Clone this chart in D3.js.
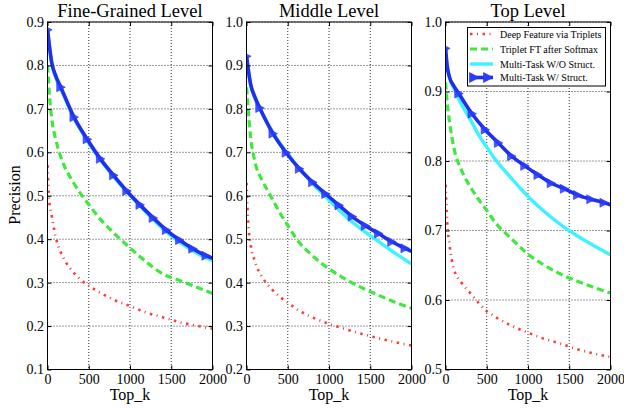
<!DOCTYPE html>
<html>
<head>
<meta charset="utf-8">
<script src="https://cdn.jsdelivr.net/npm/d3@7"></script>
<style>
  body { margin: 0; background: #fff; }
  svg { display: block; }
  svg text { font-family: "Liberation Serif", "Times New Roman", Times, serif; fill: #000; }
</style>
</head>
<body>
<svg id="chart" width="624" height="408"></svg>
<script>
// top_k values where the curves were read
const kGrid = [1, 20, 50, 100, 200, 300, 400, 500, 600, 800, 1000, 1200, 1400, 1600, 1800, 2000];
// the marked series is read at its marker positions (plus a few early points)
const kMarked = [1, 20, 50, 100, 161, 321, 481, 641, 801, 961, 1121, 1281, 1441, 1601, 1761, 1921, 2000];

// Fine-Grained Level
const fineRed   = [0.57, 0.49, 0.455, 0.405, 0.355, 0.327, 0.307, 0.293, 0.281, 0.261, 0.246, 0.231, 0.22, 0.209, 0.201, 0.194];
const fineGreen = [0.80, 0.74, 0.68, 0.63, 0.57, 0.535, 0.505, 0.48, 0.455, 0.415, 0.38, 0.347, 0.32, 0.305, 0.29, 0.275];
const fineCyan  = [0.88, 0.848, 0.805, 0.772, 0.73, 0.686, 0.652, 0.621, 0.593, 0.544, 0.501, 0.461, 0.424, 0.393, 0.369, 0.351];
const fineBlue  = [0.882, 0.85, 0.808, 0.776, 0.750, 0.681, 0.630, 0.585, 0.547, 0.511, 0.479, 0.449, 0.421, 0.398, 0.378, 0.362, 0.356];

// Middle Level
const midRed   = [0.63, 0.54, 0.488, 0.45, 0.41, 0.386, 0.368, 0.354, 0.34, 0.32, 0.305, 0.293, 0.282, 0.272, 0.263, 0.255];
const midGreen = [0.85, 0.80, 0.735, 0.68, 0.632, 0.597, 0.562, 0.532, 0.502, 0.462, 0.432, 0.408, 0.388, 0.371, 0.355, 0.341];
const midCyan  = [0.92, 0.89, 0.855, 0.825, 0.787, 0.752, 0.722, 0.697, 0.672, 0.628, 0.59, 0.553, 0.522, 0.495, 0.468, 0.443];
const midBlue  = [0.921, 0.893, 0.857, 0.828, 0.802, 0.743, 0.699, 0.662, 0.631, 0.604, 0.578, 0.552, 0.531, 0.513, 0.494, 0.479, 0.472];

// Top Level
const topRed   = [0.766, 0.713, 0.678, 0.645, 0.624, 0.61, 0.596, 0.584, 0.576, 0.563, 0.553, 0.544, 0.537, 0.529, 0.523, 0.518];
const topGreen = [0.913, 0.885, 0.855, 0.82, 0.785, 0.763, 0.745, 0.729, 0.712, 0.688, 0.666, 0.65, 0.637, 0.627, 0.618, 0.61];
const topCyan  = [0.96, 0.937, 0.92, 0.905, 0.88, 0.86, 0.838, 0.82, 0.803, 0.775, 0.749, 0.727, 0.708, 0.692, 0.678, 0.665];
const topBlue  = [0.962, 0.937, 0.92, 0.908, 0.897, 0.868, 0.845, 0.826, 0.807, 0.793, 0.78, 0.768, 0.76, 0.751, 0.745, 0.74, 0.737];

const xTicks = [0, 500, 1000, 1500, 2000];
const titles = ["Fine-Grained Level", "Middle Level", "Top Level"];
const yDomains = [[0.1, 0.9], [0.2, 1.0], [0.5, 1.0]];
const yTicks = [
  [0.1, 0.2, 0.3, 0.4, 0.5, 0.6, 0.7, 0.8, 0.9],
  [0.2, 0.3, 0.4, 0.5, 0.6, 0.7, 0.8, 0.9, 1.0],
  [0.5, 0.6, 0.7, 0.8, 0.9, 1.0]
];
const seriesNames = ["Deep Feature via Triplets", "Triplet FT after Softmax", "Multi-Task W/O Struct.", "Multi-Task W/ Struct."];
const panelData = [
  [fineRed, fineGreen, fineCyan, fineBlue],
  [midRed, midGreen, midCyan, midBlue],
  [topRed, topGreen, topCyan, topBlue]
];

const styles = [
  { color: "#ff3a3a", width: 2.6, dash: "2.5,4.5,1,4.5" },
  { color: "#3ee83e", width: 3.2, dash: "7,4" },
  { color: "#3ef2ff", width: 3.4, dash: null },
  { color: "#1f2ff0", width: 3.6, dash: null }
];

const svg = d3.select("#chart");
const panelLeft = [47.5, 246.5, 445.5];
const panelW = 165;
const plotTop = 22, plotBottom = 369.5;
const serif = "'Liberation Serif', 'Times New Roman', Times, serif";

const triangle = s => `M${-s * 0.45},${-s / 2}L${s * 0.5},0L${-s * 0.45},${s / 2}Z`;

panelLeft.forEach((x0, p) => {
  const x = d3.scaleLinear().domain([0, 2000]).range([x0, x0 + panelW]);
  const y = d3.scaleLinear().domain(yDomains[p]).range([plotBottom, plotTop]);
  const g = svg.append("g");

  // grid
  g.append("g").selectAll("line").data(xTicks).join("line")
    .attr("x1", d => x(d)).attr("x2", d => x(d))
    .attr("y1", plotTop).attr("y2", plotBottom)
    .attr("stroke", "#000").attr("stroke-width", 0.8).attr("stroke-dasharray", "1,2");
  g.append("g").selectAll("line").data(yTicks[p]).join("line")
    .attr("y1", d => y(d)).attr("y2", d => y(d))
    .attr("x1", x0).attr("x2", x0 + panelW)
    .attr("stroke", "#000").attr("stroke-width", 0.8).attr("stroke-dasharray", "1,2");

  // curves, clipped to the axes box
  const clipId = "clip" + p;
  svg.append("clipPath").attr("id", clipId).append("rect")
    .attr("x", x0).attr("y", plotTop).attr("width", panelW).attr("height", plotBottom - plotTop);
  const plot = g.append("g").attr("clip-path", `url(#${clipId})`);

  panelData[p].forEach((vals, s) => {
    const ks = s === 3 ? kMarked : kGrid;
    const pts = ks.map((k, i) => [k, vals[i]]);
    const line = d3.line().x(d => x(d[0])).y(d => y(d[1])).curve(d3.curveMonotoneX);
    plot.append("path").datum(pts)
      .attr("d", line)
      .attr("fill", "none")
      .attr("stroke", styles[s].color)
      .attr("stroke-width", styles[s].width)
      .attr("stroke-dasharray", styles[s].dash);
    if (s === 3) {
      plot.append("g").selectAll("path")
        .data(pts.filter(d => (d[0] - 1) % 160 === 0))
        .join("path")
        .attr("d", triangle(9))
        .attr("transform", d => `translate(${x(d[0])},${y(d[1])})`)
        .attr("fill", "#2a3cff").attr("fill-opacity", 0.85)
        .attr("stroke", "#1f2ff0").attr("stroke-width", 0.6);
    }
  });

  // axes with inward ticks
  const fmt = d3.format(".1f");
  g.append("g").attr("transform", `translate(${x0},0)`)
    .call(d3.axisLeft(y).tickValues(yTicks[p]).tickFormat(fmt).tickSize(-4).tickPadding(3.5))
    .call(a => a.select(".domain").remove());
  g.append("g").attr("transform", `translate(${x0 + panelW},0)`)
    .call(d3.axisRight(y).tickValues(yTicks[p]).tickFormat("").tickSize(-4))
    .call(a => a.select(".domain").remove());
  g.append("g").attr("transform", `translate(0,${plotBottom})`)
    .call(d3.axisBottom(x).tickValues(xTicks).tickFormat(d3.format("d")).tickSize(-4).tickPadding(4.5))
    .call(a => a.select(".domain").remove());
  g.append("g").attr("transform", `translate(0,${plotTop})`)
    .call(d3.axisTop(x).tickValues(xTicks).tickFormat("").tickSize(-4))
    .call(a => a.select(".domain").remove());
  g.selectAll("g").attr("font-family", serif);
  g.selectAll(".tick text").attr("font-size", 14).attr("fill", "#000");
  g.selectAll(".tick line").attr("stroke", "#000");

  g.append("rect").attr("x", x0).attr("y", plotTop).attr("width", panelW).attr("height", plotBottom - plotTop)
    .attr("fill", "none").attr("stroke", "#000").attr("stroke-width", 1);

  g.append("text").attr("x", x0 + panelW / 2).attr("y", 17)
    .attr("text-anchor", "middle").attr("font-size", 18.5).text(titles[p]);
  g.append("text").attr("x", x0 + panelW / 2).attr("y", 400)
    .attr("text-anchor", "middle").attr("font-size", 16).text("Top_k");

  // legend in the last panel
  if (p === 2) {
    const lg = g.append("g");
    lg.append("rect").attr("x", 467.5).attr("y", 27.5).attr("width", 138).attr("height", 58.5)
      .attr("fill", "#fff").attr("stroke", "#000").attr("stroke-width", 1);
    const rowY = [34, 49, 64, 77.5];
    seriesNames.forEach((name, s) => {
      lg.append("line").attr("x1", 470).attr("x2", 493).attr("y1", rowY[s]).attr("y2", rowY[s])
        .attr("stroke", styles[s].color).attr("stroke-width", styles[s].width)
        .attr("stroke-dasharray", styles[s].dash);
      if (s === 3) {
        [474, 488].forEach(mx => lg.append("path").attr("d", triangle(10))
          .attr("transform", `translate(${mx},${rowY[s]})`)
          .attr("fill", "#2a3cff").attr("stroke", "#1f2ff0").attr("stroke-width", 0.6));
      }
      lg.append("text").attr("x", 500).attr("y", rowY[s]).attr("dy", "0.35em")
        .attr("font-size", 10).text(name);
    });
  }
});

svg.append("text").attr("transform", "translate(20,195) rotate(-90)")
  .attr("text-anchor", "middle").attr("font-size", 16).text("Precision");
</script>
</body>
</html>
